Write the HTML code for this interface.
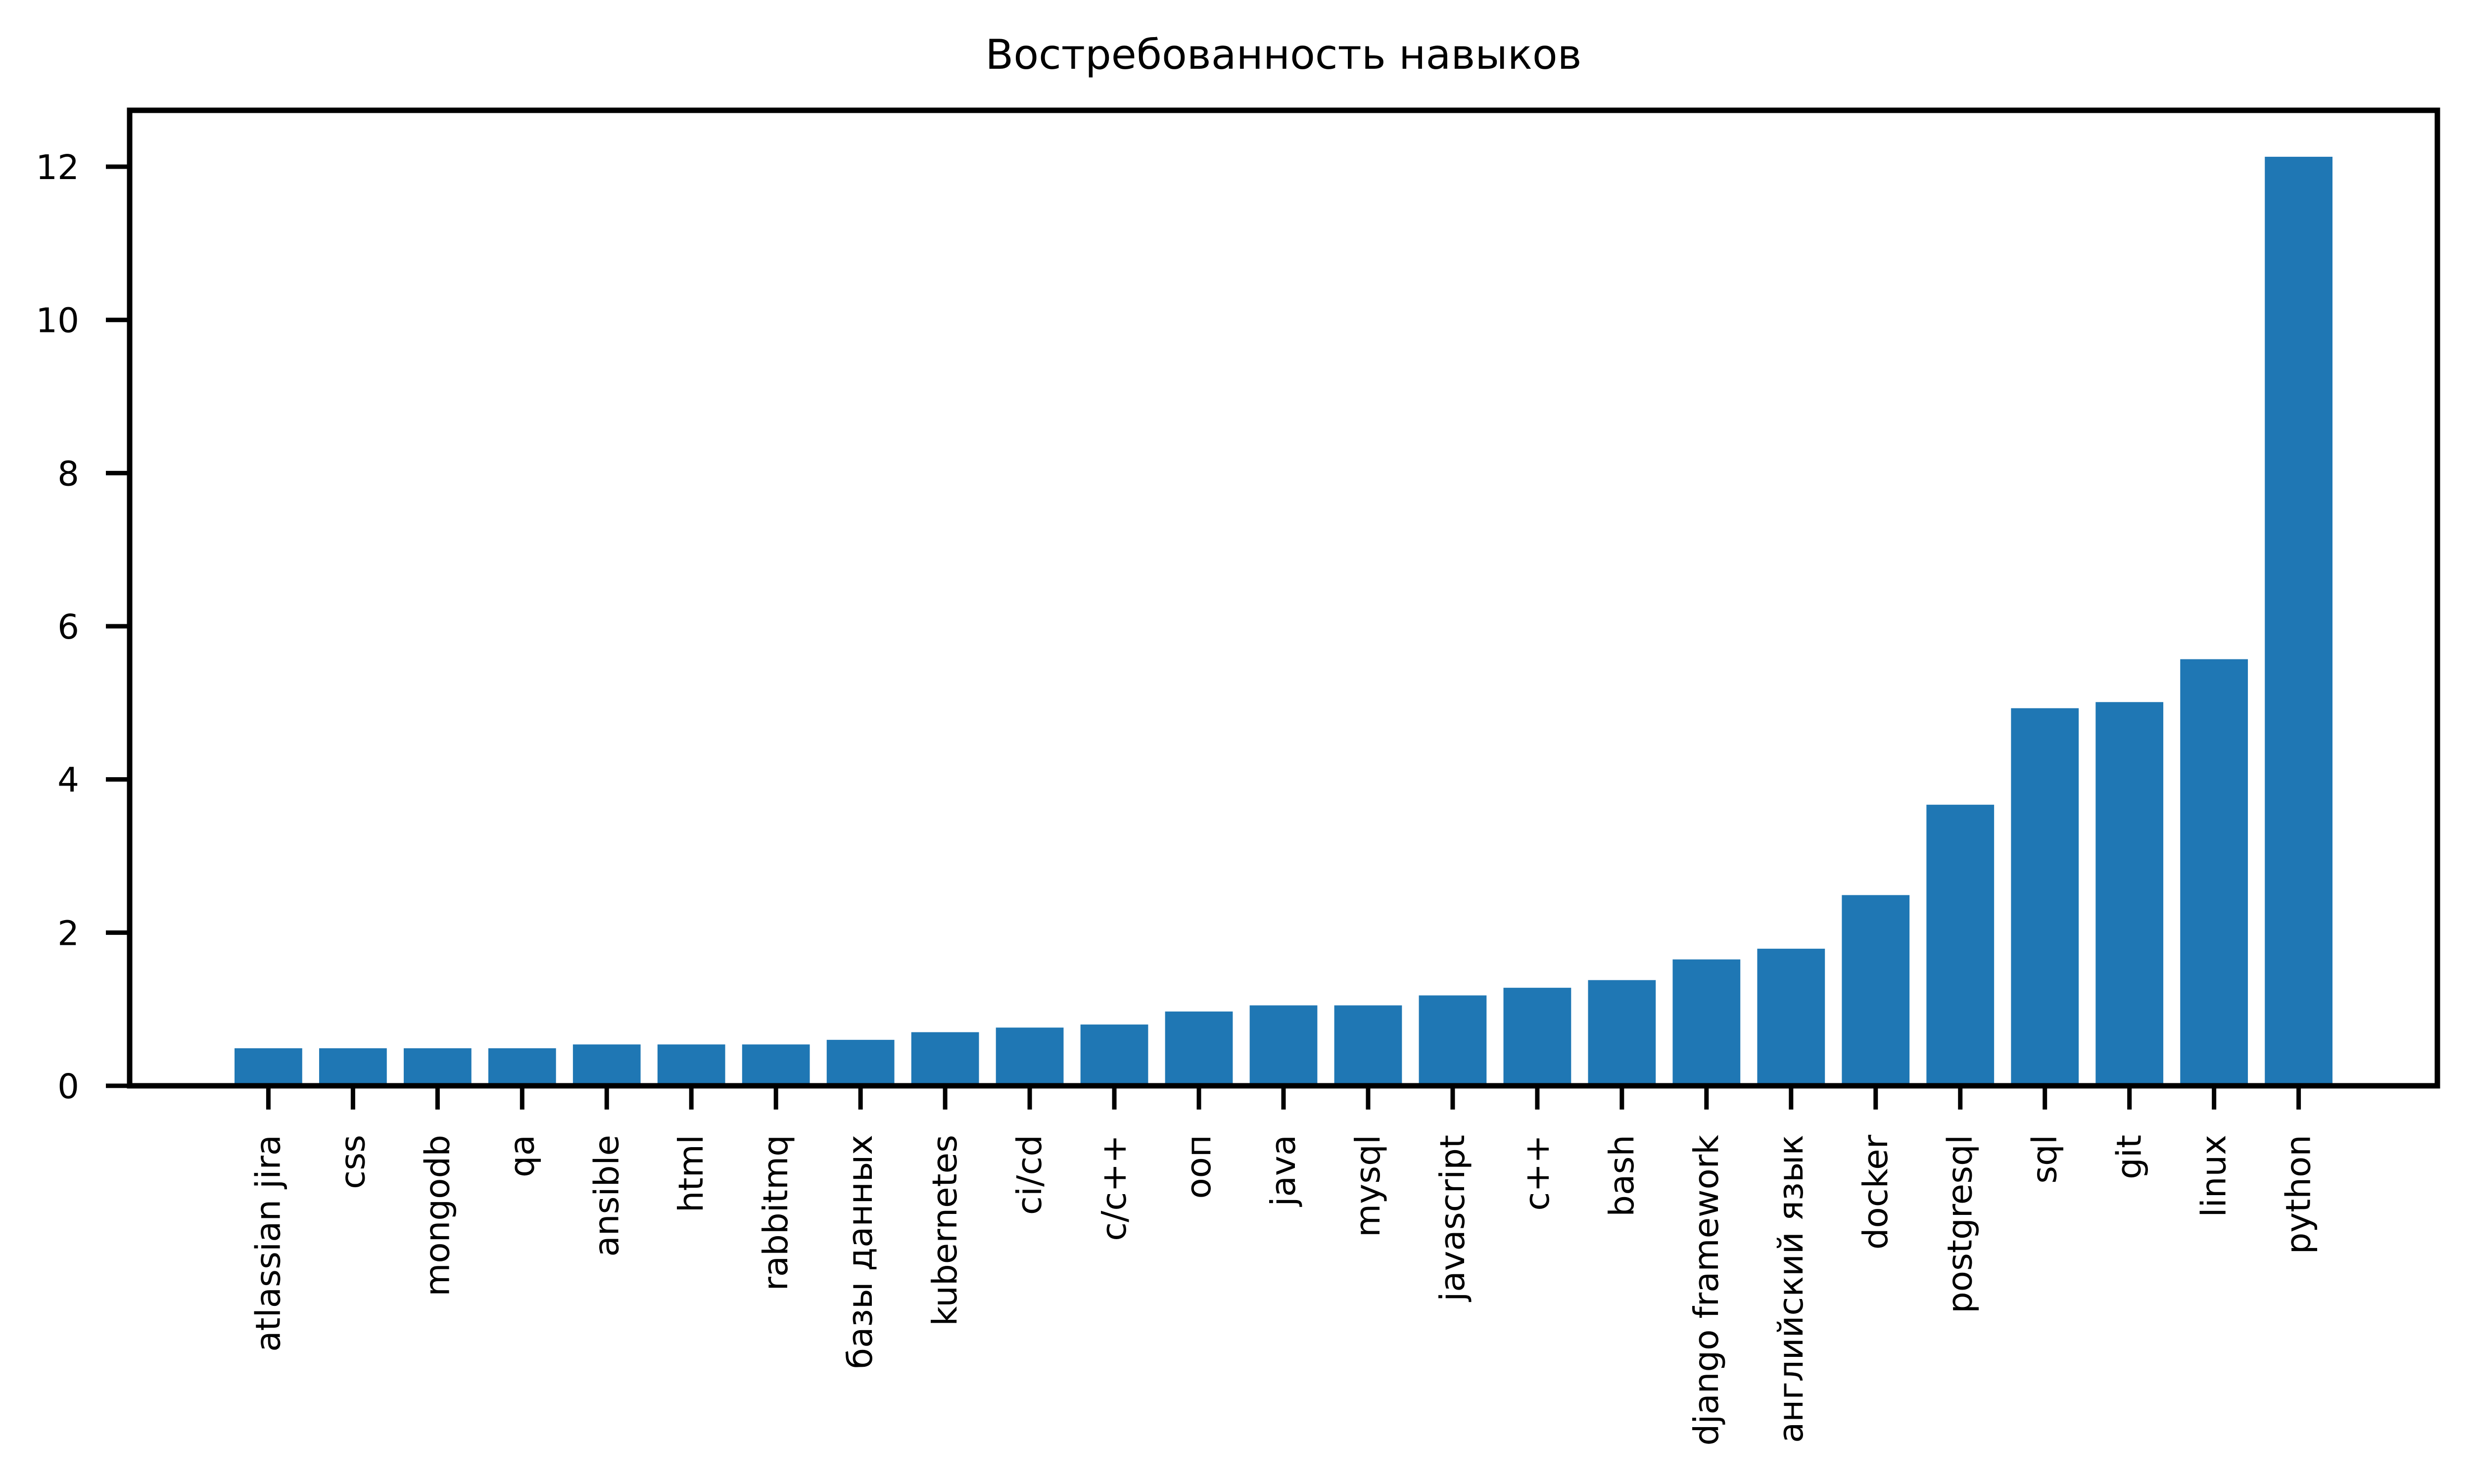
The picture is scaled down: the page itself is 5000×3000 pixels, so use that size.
<!DOCTYPE html>
<html><head><meta charset="utf-8"><style>
html,body{margin:0;padding:0;background:#fff;}
svg{display:block;font-family:"DejaVu Sans","Liberation Sans",sans-serif;}
</style></head><body>
<svg id="chart" width="5000" height="3000" viewBox="0 0 5000 3000">
<rect width="5000" height="3000" fill="#fff"/>
<text x="2594" y="139" font-size="83" text-anchor="middle">Востребованность навыков</text>
<g id="bars"></g>
<g id="yticks"></g>
<g id="xticks"></g>
<rect x="262" y="223" width="4664" height="1972" fill="none" stroke="#000" stroke-width="11"/>
</svg>
<script>
const categories = ["atlassian jira","css","mongodb","qa","ansible","html","rabbitmq","базы данных","kubernetes","ci/cd","c/c++","ооп","java","mysql","javascript","c++","bash","django framework","английский язык","docker","postgresql","sql","git","linux","python"];
const values = [0.49,0.49,0.49,0.49,0.54,0.54,0.54,0.6,0.7,0.76,0.8,0.97,1.05,1.05,1.18,1.28,1.38,1.65,1.79,2.49,3.67,4.93,5.01,5.57,12.13];
const yTickValues = [0,2,4,6,8,10,12];
const yTickLabels = ["0","2","4","6","8","10","12"];

const NS = "http://www.w3.org/2000/svg";
const L = 262, R = 4926, T = 223, B = 2195;
const n = categories.length;
const xmin = -0.4 - 0.05 * (n - 1 + 0.8), xmax = (n - 1) + 0.4 + 0.05 * (n - 1 + 0.8);
const ymax = Math.max(...values) * 1.05;
function xs(v){ return L + (v - xmin) / (xmax - xmin) * (R - L); }
function ys(v){ return B - v / ymax * (B - T); }
function mk(tag, attrs){ const e = document.createElementNS(NS, tag); for (const k in attrs) e.setAttribute(k, attrs[k]); return e; }

const bars = document.getElementById('bars');
const xt = document.getElementById('xticks');
categories.forEach((c, i) => {
  const x0 = xs(i - 0.4), x1 = xs(i + 0.4);
  const r = mk('rect', {x: x0, y: ys(values[i]), width: x1 - x0, height: B - ys(values[i]), fill: '#1f77b4'});
  
  
  bars.appendChild(r);
  const cx = xs(i);
  const t = mk('line', {x1: cx, x2: cx, y1: B, y2: B + 48, stroke: '#000', 'stroke-width': 9});
  
  
  xt.appendChild(t);
  const lb = mk('text', {x: 0, y: 0, 'font-size': 69, 'text-anchor': 'end', 'dominant-baseline': 'central', transform: `translate(${cx},2294) rotate(-90)`});
  lb.textContent = c;
  
  
  xt.appendChild(lb);
});
const yt = document.getElementById('yticks');
yTickValues.forEach((v, i) => {
  const y = ys(v);
  const t = mk('line', {x1: L - 48, x2: L, y1: y, y2: y, stroke: '#000', 'stroke-width': 9});
  
  
  yt.appendChild(t);
  const lb = mk('text', {x: 160, y: y + 25, 'font-size': 69, 'text-anchor': 'end'});
  lb.textContent = yTickLabels[i];
  
  
  yt.appendChild(lb);
});
</script>
</body></html>
